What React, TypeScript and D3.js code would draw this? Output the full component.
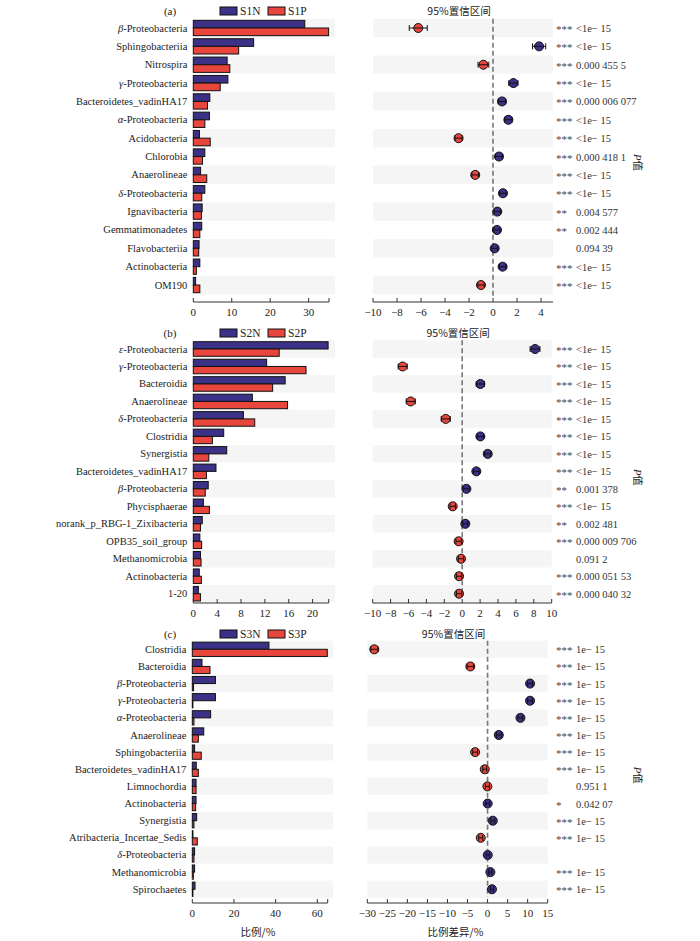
import * as d3 from "d3";
import React from "react";

// ---- panel (a) ----
const catsA = ["β-Proteobacteria", "Sphingobacteriia", "Nitrospira", "γ-Proteobacteria", "Bacteroidetes_vadinHA17", "α-Proteobacteria", "Acidobacteria", "Chlorobia", "Anaerolineae", "δ-Proteobacteria", "Ignavibacteria", "Gemmatimonadetes", "Flavobacteriia", "Actinobacteria", "OM190"];
const nA = [29.0, 15.7, 8.8, 9.0, 4.3, 4.2, 1.6, 3.0, 1.9, 3.0, 2.3, 2.2, 1.5, 1.7, 0.6];
const pA = [35.2, 11.8, 9.5, 7.0, 3.7, 3.0, 4.4, 2.4, 3.5, 2.2, 2.1, 1.7, 1.4, 0.8, 1.7];
const diffA = [-6.23, 3.84, -0.8, 1.7, 0.75, 1.28, -2.87, 0.5, -1.48, 0.83, 0.36, 0.33, 0.14, 0.8, -1.0];
const ciA = [0.75, 0.55, 0.45, 0.38, 0.3, 0.3, 0.3, 0.28, 0.28, 0.28, 0.26, 0.26, 0.24, 0.26, 0.26];
const starsA = ["***", "***", "***", "***", "***", "***", "***", "***", "***", "***", "**", "**", "", "***", "***"];
const pvalA = ["<1e− 15", "<1e− 15", "0.000 455 5", "<1e− 15", "0.000 006 077", "<1e− 15", "<1e− 15", "0.000 418 1", "<1e− 15", "<1e− 15", "0.004 577", "0.002 444", "0.094 39", "<1e− 15", "<1e− 15"];

// ---- panel (b) ----
const catsB = ["ε-Proteobacteria", "γ-Proteobacteria", "Bacteroidia", "Anaerolineae", "δ-Proteobacteria", "Clostridia", "Synergistia", "Bacteroidetes_vadinHA17", "β-Proteobacteria", "Phycisphaerae", "norank_p_RBG-1_Zixibacteria", "OPB35_soil_group", "Methanomicrobia", "Actinobacteria", "1-20"];
const nB = [22.6, 12.3, 15.4, 9.9, 8.4, 5.1, 5.6, 3.8, 2.5, 1.7, 1.5, 1.1, 1.2, 1.0, 0.85];
const pB = [14.4, 18.9, 13.3, 15.8, 10.3, 3.2, 2.6, 2.2, 2.0, 2.7, 1.2, 1.4, 1.3, 1.35, 1.2];
const diffB = [8.14, -6.65, 2.03, -5.75, -1.84, 2.03, 2.85, 1.58, 0.47, -1.06, 0.35, -0.4, -0.13, -0.35, -0.35];
const ciB = [0.55, 0.5, 0.45, 0.5, 0.5, 0.35, 0.35, 0.32, 0.3, 0.3, 0.28, 0.3, 0.3, 0.3, 0.3];
const starsB = ["***", "***", "***", "***", "***", "***", "***", "***", "**", "***", "**", "***", "", "***", "***"];
const pvalB = ["<1e− 15", "<1e− 15", "<1e− 15", "<1e− 15", "<1e− 15", "<1e− 15", "<1e− 15", "<1e− 15", "0.001 378", "<1e− 15", "0.002 481", "0.000 009 706", "0.091 2", "0.000 051 53", "0.000 040 32"];

// ---- panel (c) ----
const catsC = ["Clostridia", "Bacteroidia", "β-Proteobacteria", "γ-Proteobacteria", "α-Proteobacteria", "Anaerolineae", "Sphingobacteriia", "Bacteroidetes_vadinHA17", "Limnochordia", "Actinobacteria", "Synergistia", "Atribacteria_Incertae_Sedis", "δ-Proteobacteria", "Methanomicrobia", "Spirochaetes"];
const nC = [36.8, 4.65, 11.1, 11.1, 8.8, 5.5, 1.1, 1.9, 1.8, 1.8, 2.1, 0.3, 1.1, 1.1, 1.3];
const pC = [64.8, 8.5, 0.6, 0.3, 0.8, 2.9, 4.3, 2.9, 1.8, 1.6, 0.8, 2.4, 0.8, 0.5, 0.3];
const diffC = [-28.25, -4.3, 10.6, 10.6, 8.2, 2.8, -3.1, -0.7, -0.05, 0.03, 1.3, -1.7, 0.05, 0.7, 1.1];
const ciC = [0.9, 0.8, 0.6, 0.6, 0.6, 0.6, 0.6, 0.5, 0.5, 0.5, 0.5, 0.5, 0.4, 0.4, 0.4];
const starsC = ["***", "***", "***", "***", "***", "***", "***", "***", "", "*", "***", "***", "", "***", "***"];
const pvalC = ["1e− 15", "1e− 15", "1e− 15", "1e− 15", "1e− 15", "1e− 15", "1e− 15", "1e− 15", "0.951 1", "0.042 07", "1e− 15", "1e− 15", "", "1e− 15", "1e− 15"];

const BLUE = "#3b3288";
const RED = "#e8463d";
const STRIPE = "#f5f5f5";
const SERIF = "'Liberation Serif', 'DejaVu Serif', serif";
const CJK = "'Noto Sans CJK SC', sans-serif";

// greek prefix in italics, like the original
const label = (s: string) => {
  if (/^[αβγδε]-/.test(s)) {
    return (
      <>
        <tspan fontStyle="italic">{s[0]}</tspan>
        {s.slice(1)}
      </>
    );
  }
  return s;
};

type PanelProps = {
  tag: string;
  legend: [string, string];
  headerY: number;
  top: number;
  step: number;
  axisY: number;
  cats: string[];
  n: number[];
  p: number[];
  diff: number[];
  ci: number[];
  stars: string[];
  pvals: string[];
  leftDomain: [number, number];
  leftRange: [number, number];
  leftTicks: number[];
  stripeLeftEnd: number;
  rightDomain: [number, number];
  rightRange: [number, number];
  rightTicks: number[];
  xLabels?: boolean;
};

const Panel: React.FC<PanelProps> = (props) => {
  const {
    tag, legend, headerY, top, step, axisY, cats, n, p, diff, ci, stars, pvals,
    leftDomain, leftRange, leftTicks, stripeLeftEnd, rightDomain, rightRange, rightTicks, xLabels,
  } = props;

  const y = d3
    .scaleBand<string>()
    .domain(cats)
    .range([top - step / 2, top - step / 2 + step * cats.length])
    .padding(0);
  const inner = d3
    .scaleBand<string>()
    .domain(["N", "P"])
    .range([0, y.bandwidth()])
    .paddingOuter(0.2)
    .paddingInner(0);
  const xl = d3.scaleLinear().domain(leftDomain).range(leftRange);
  const xr = d3.scaleLinear().domain(rightDomain).range(rightRange);
  const fmt = d3.format("d");

  const yTop = y(cats[0])!;
  const yBottom = y(cats[cats.length - 1])! + y.bandwidth();

  return (
    <g>
      {/* header */}
      <text x={170} y={headerY + 4} fontFamily={SERIF} fontSize={11} textAnchor="middle" fill="#222">
        {tag}
      </text>
      {legend.map((s, i) => (
        <g key={s} transform={`translate(${220 + i * 48},${headerY - 4})`}>
          <rect width={17} height={8} fill={i === 0 ? BLUE : RED} stroke="#111" strokeWidth={1} />
          <text x={20} y={8} fontFamily={SERIF} fontSize={11.5} fill="#222">
            {s}
          </text>
        </g>
      ))}
      <text x={(rightRange[0] + rightRange[1]) / 2 - 4} y={headerY + 4} fontFamily={CJK} fontSize={10.5} textAnchor="middle" fill="#222">
        95%置信区间
      </text>

      {/* stripes */}
      {cats.map((c, i) =>
        i % 2 === 0 ? (
          <g key={"s" + c}>
            <rect x={leftRange[0]} y={y(c)} width={stripeLeftEnd - leftRange[0]} height={y.bandwidth()} fill={STRIPE} />
            <rect x={rightRange[0]} y={y(c)} width={rightRange[1] - rightRange[0]} height={y.bandwidth()} fill={STRIPE} />
          </g>
        ) : null
      )}

      {/* left bars */}
      {cats.map((c, i) => (
        <g key={"b" + c}>
          <text x={leftRange[0] - 6} y={y(c)! + y.bandwidth() / 2 + 3.5} textAnchor="end" fontFamily={SERIF} fontSize={10.5} fill="#222">
            {label(c)}
          </text>
          <rect x={xl(0)} y={y(c)! + inner("N")!} width={xl(n[i]) - xl(0)} height={inner.bandwidth()} fill={BLUE} stroke="#111" strokeWidth={1} />
          <rect x={xl(0)} y={y(c)! + inner("P")!} width={xl(p[i]) - xl(0)} height={inner.bandwidth()} fill={RED} stroke="#111" strokeWidth={1} />
        </g>
      ))}

      {/* left axis */}
      <line x1={leftRange[0]} x2={leftRange[1]} y1={axisY} y2={axisY} stroke="#333" strokeWidth={1} />
      <line x1={leftRange[1]} x2={leftRange[1]} y1={axisY} y2={axisY - 4} stroke="#333" />
      {leftTicks.map((t) => (
        <g key={"lt" + t}>
          <line x1={xl(t)} x2={xl(t)} y1={axisY} y2={axisY - 4} stroke="#333" />
          <text x={xl(t)} y={axisY + 14} textAnchor="middle" fontFamily={SERIF} fontSize={11} fill="#222">
            {fmt(t)}
          </text>
        </g>
      ))}

      {/* zero line */}
      <line x1={xr(0)} x2={xr(0)} y1={yTop} y2={axisY - 6} stroke="#777" strokeWidth={1.6} strokeDasharray="5,3" />

      {/* right points */}
      {cats.map((c, i) => {
        const cy = y(c)! + y.bandwidth() / 2;
        const x0 = xr(diff[i] - ci[i]);
        const x1 = xr(diff[i] + ci[i]);
        return (
          <g key={"p" + c}>
            <circle cx={xr(diff[i])} cy={cy} r={4.5} fill={diff[i] < 0 ? RED : BLUE} stroke="#111" strokeWidth={1} />
            <line x1={x0} x2={x1} y1={cy} y2={cy} stroke="#111" strokeWidth={1} />
            <line x1={x0} x2={x0} y1={cy - 3} y2={cy + 3} stroke="#111" strokeWidth={1} />
            <line x1={x1} x2={x1} y1={cy - 3} y2={cy + 3} stroke="#111" strokeWidth={1} />
            <text x={556} y={cy + 5} fontFamily={SERIF} fontSize={11} fill="#444">
              {stars[i]}
            </text>
            <text x={576} y={cy + 4} fontFamily={SERIF} fontSize={10.5} fill="#333">
              {pvals[i]}
            </text>
          </g>
        );
      })}

      {/* right axis */}
      <line x1={rightRange[0]} x2={rightRange[1]} y1={axisY} y2={axisY} stroke="#333" strokeWidth={1} />
      {rightTicks.map((t) => (
        <g key={"rt" + t}>
          <line x1={xr(t)} x2={xr(t)} y1={axisY} y2={axisY - 4} stroke="#333" />
          <text x={xr(t)} y={axisY + 14} textAnchor="middle" fontFamily={SERIF} fontSize={11} fill="#222">
            {fmt(t)}
          </text>
        </g>
      ))}

      {/* P value label */}
      <text transform={`translate(634,${(yTop + yBottom) / 2 + 6}) rotate(90)`} textAnchor="middle" fontSize={10.5} fill="#222">
        <tspan fontFamily={SERIF} fontStyle="italic">P</tspan>
        <tspan fontFamily={CJK}>值</tspan>
      </text>

      {xLabels && (
        <g>
          <text x={(leftRange[0] + leftRange[1]) / 2 - 2} y={axisY + 33} textAnchor="middle" fontFamily={CJK} fontSize={10.5} fill="#222">
            比例/%
          </text>
          <text x={(rightRange[0] + rightRange[1]) / 2 - 2} y={axisY + 33} textAnchor="middle" fontFamily={CJK} fontSize={10.5} fill="#222">
            比例差异/%
          </text>
        </g>
      )}
    </g>
  );
};

const App: React.FC = () => {
  return (
    <svg width={700} height={941} style={{ position: "absolute", left: 0, top: 0, background: "#fff" }}>
      <rect width={700} height={941} fill="#fff" />
      <Panel
        tag="(a)"
        legend={["S1N", "S1P"]}
        headerY={11}
        top={28}
        step={18.36}
        axisY={302}
        cats={catsA}
        n={nA}
        p={pA}
        diff={diffA}
        ci={ciA}
        stars={starsA}
        pvals={pvalA}
        leftDomain={[0, 35.3]}
        leftRange={[193.3, 329]}
        leftTicks={[0, 10, 20, 30]}
        stripeLeftEnd={335}
        rightDomain={[-10, 5]}
        rightRange={[373, 553]}
        rightTicks={d3.range(-10, 5, 2)}
      />
      <Panel
        tag="(b)"
        legend={["S2N", "S2P"]}
        headerY={333}
        top={349}
        step={17.48}
        axisY={603}
        cats={catsB}
        n={nB}
        p={pB}
        diff={diffB}
        ci={ciB}
        stars={starsB}
        pvals={pvalB}
        leftDomain={[0, 22.7]}
        leftRange={[193.3, 328.7]}
        leftTicks={[0, 4, 8, 12, 16, 20]}
        stripeLeftEnd={335}
        rightDomain={[-10, 10]}
        rightRange={[372.7, 551.7]}
        rightTicks={d3.range(-10, 11, 2)}
      />
      <Panel
        tag="(c)"
        legend={["S3N", "S3P"]}
        headerY={634}
        top={649.3}
        step={17.14}
        axisY={903}
        cats={catsC}
        n={nC}
        p={pC}
        diff={diffC}
        ci={ciC}
        stars={starsC}
        pvals={pvalC}
        leftDomain={[0, 65]}
        leftRange={[192.3, 327.7]}
        leftTicks={[0, 20, 40, 60]}
        stripeLeftEnd={333}
        rightDomain={[-30, 15]}
        rightRange={[367.3, 547.7]}
        rightTicks={d3.range(-30, 16, 5)}
        xLabels
      />
    </svg>
  );
};

export default App;
